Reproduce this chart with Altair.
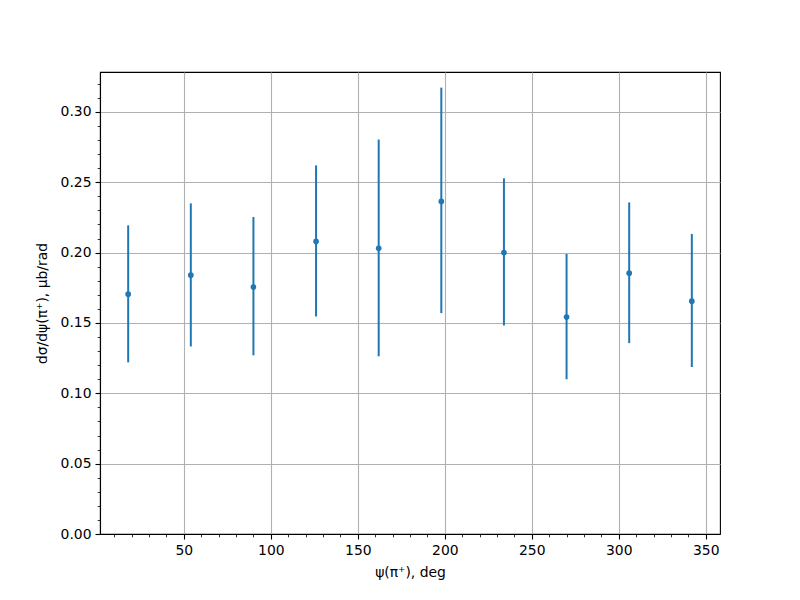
import altair as alt
import pandas as pd

psi = [18, 54, 90, 126, 162, 198, 234, 270, 306, 342]
val = [0.1705, 0.184, 0.1755, 0.208, 0.2031, 0.2364, 0.200, 0.1542, 0.1854, 0.1655]
lo = [0.1220, 0.1333, 0.1270, 0.1546, 0.1263, 0.1570, 0.1482, 0.1100, 0.1357, 0.1187]
hi = [0.2194, 0.2350, 0.2253, 0.2620, 0.2804, 0.3173, 0.2528, 0.1990, 0.2357, 0.2133]

x_major = [50, 100, 150, 200, 250, 300, 350]
x_minor = [v for v in range(10, 360, 10)]
y_major = [0.0, 0.05, 0.10, 0.15, 0.20, 0.25, 0.30]
y_minor = [round(i * 0.01, 2) for i in range(0, 33)]

df = pd.DataFrame({"psi": psi, "val": val, "lo": lo, "hi": hi})

FONT = "DejaVu Sans"
BLUE = "#1f77b4"

xs = alt.Scale(domain=[1.8, 358.2], nice=False, zero=False)
ys = alt.Scale(domain=[0, 0.3284], nice=False, zero=False)

common = dict(
    domainColor="black", domainWidth=1.1, tickColor="black", tickWidth=1.1,
    labelFont=FONT, labelFontSize=13.9, labelColor="black",
    titleFont=FONT, titleFontSize=13.9, titleColor="black", titleFontWeight="normal",
)

x_axis_major = alt.Axis(
    values=x_major, format="d", grid=True, gridColor="#b0b0b0", gridWidth=1.1,
    tickSize=5, labelPadding=4, title="ψ(π⁺), deg", titlePadding=9, orient="bottom",
    labelFlush=False, **common,
)
y_axis_major = alt.Axis(
    values=y_major, format=".2f", grid=True, gridColor="#b0b0b0", gridWidth=1.1,
    tickSize=5, labelPadding=4, title="dσ/dψ(π⁺), μb/rad", titlePadding=11, orient="left",
    labelFlush=False, **common,
)
x_axis_minor = alt.Axis(
    values=x_minor, labels=False, grid=False, tickSize=2.8, domain=False, title=None,
    orient="bottom", tickColor="black", tickWidth=0.8,
)
y_axis_minor = alt.Axis(
    values=y_minor, labels=False, grid=False, tickSize=2.8, domain=False, title=None,
    orient="left", tickColor="black", tickWidth=0.8,
)

base = alt.Chart(df)

err = base.mark_rule(color=BLUE, strokeWidth=2).encode(
    x=alt.X("psi:Q", scale=xs, axis=x_axis_major),
    y=alt.Y("lo:Q", scale=ys, axis=y_axis_major),
    y2="hi:Q",
)

pts = base.mark_circle(color=BLUE, size=32, opacity=1).encode(
    x=alt.X("psi:Q", scale=xs, axis=x_axis_minor),
    y=alt.Y("val:Q", scale=ys, axis=y_axis_minor),
)

chart = (
    alt.layer(err, pts)
    .resolve_axis(x="independent", y="independent")
    .properties(
        width=620, height=462,
        autosize=alt.AutoSizeParams(type="none"),
        padding={"left": 92, "top": 64, "right": 72, "bottom": 58},
        background="white",
    )
    .configure_view(stroke="black", strokeWidth=1.1)
)

chart.save("out.html", embed_options={"renderer": "svg", "actions": False})
